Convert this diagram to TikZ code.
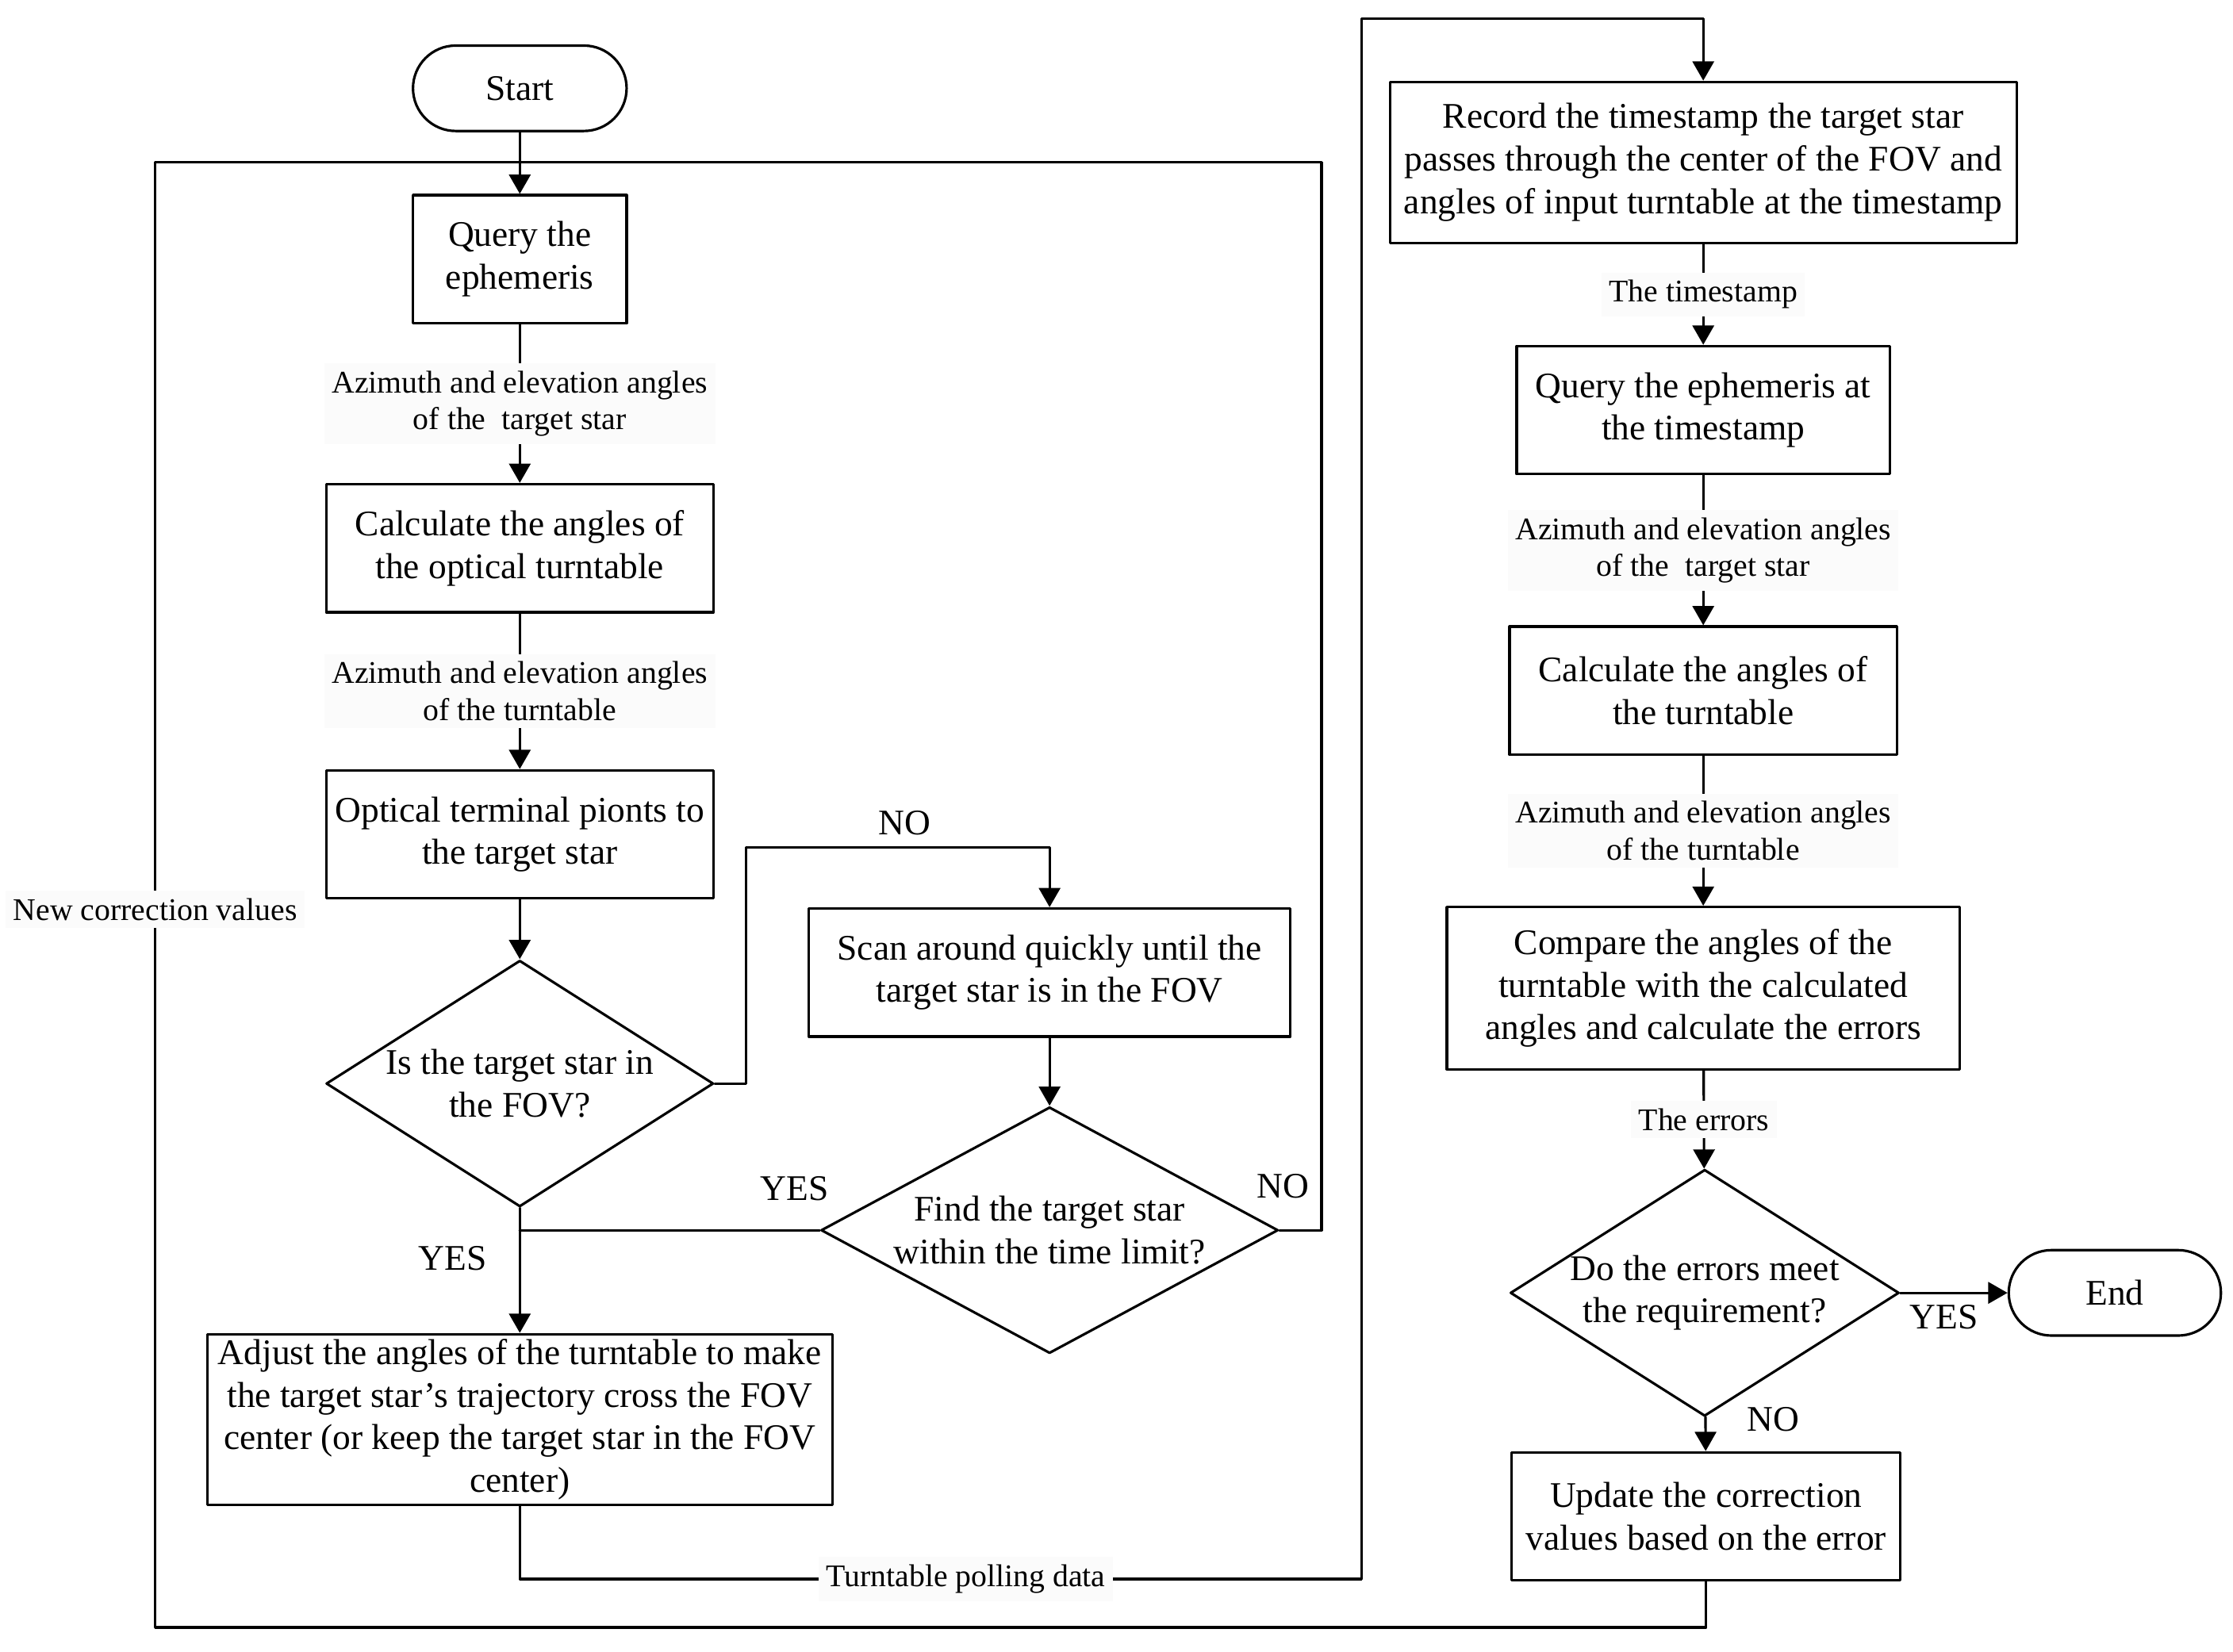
\documentclass[tikz,border=0pt]{standalone}
\usepackage{fontspec}
\setmainfont{Liberation Serif}
\usetikzlibrary{arrows.meta,shapes.geometric}
\tikzset{
  every picture/.style={line join=round, line cap=round, >={Triangle[length=0.27cm,width=0.3cm]}},
  box/.style={draw, align=center, inner sep=2pt, font=\fontsize{14.4}{17}\selectfont},
  decision/.style={draw, diamond, align=center, inner sep=0pt, aspect=1.57, font=\fontsize{14.4}{17}\selectfont},
  terminal/.style={draw, rounded corners=0.6cm, minimum height=1.2cm, font=\fontsize{14.4}{17}\selectfont},
  tag/.style={fill=gray!3, inner sep=3pt, align=center, font=\fontsize{12.6}{14.8}\selectfont},
  yn/.style={inner sep=0pt, font=\fontsize{14.4}{17}\selectfont},
}

\begin{document}
\begin{tikzpicture}[line width=1pt]
\useasboundingbox (0,0) rectangle (31.36,-23.2);
% left column
\node[terminal, minimum width=3cm] (start) at (7.30,-1.24) {Start};
\node[box, minimum width=3cm, minimum height=1.8cm] (query) at (7.30,-3.64) {Query the\\ephemeris};
\node[box, minimum width=5.44cm, minimum height=1.8cm] (calcopt) at (7.30,-7.70) {Calculate the angles of\\the optical turntable};
\node[box, minimum width=5.44cm, minimum height=1.8cm] (point) at (7.30,-11.72) {Optical terminal pionts to\\the target star};
\node[decision, minimum width=5.44cm, minimum height=3.46cm] (infov) at (7.30,-15.22) {Is the target star in\\the FOV?};
\node[box, minimum width=6.76cm, minimum height=1.8cm] (scan) at (14.74,-13.66) {Scan around quickly until the\\target star is in the FOV};
\node[decision, aspect=2.13, minimum width=6.42cm, minimum height=3.46cm] (findlim) at (14.74,-17.28) {Find the target star\\within the time limit?};
\node[box, minimum width=8.78cm, minimum height=2.4cm] (adjust) at (7.30,-19.94) {Adjust the angles of the turntable to make\\the target star’s trajectory cross the FOV\\center (or keep the target star in the FOV\\center)};
% right column
\node[box, minimum width=8.8cm, minimum height=2.26cm] (record) at (23.92,-2.28) {Record the timestamp the target star\\passes through the center of the FOV and\\angles of input turntable at the timestamp};
\node[box, minimum width=5.24cm, minimum height=1.8cm] (query2) at (23.92,-5.76) {Query the ephemeris at\\the timestamp};
\node[box, minimum width=5.44cm, minimum height=1.8cm] (calc2) at (23.92,-9.70) {Calculate the angles of\\the turntable};
\node[box, minimum width=7.2cm, minimum height=2.28cm] (compare) at (23.92,-13.88) {Compare the angles of the\\turntable with the calculated\\angles and calculate the errors};
\node[decision, minimum width=5.46cm, minimum height=3.46cm] (meet) at (23.94,-18.16) {Do the errors meet\\the requirement?};
\node[box, minimum width=5.46cm, minimum height=1.8cm] (update) at (23.96,-21.30) {Update the correction\\values based on the error};
\node[terminal, minimum width=2.98cm] (end) at (29.70,-18.16) {End};

\coordinate (loopl) at (2.18,-2.28);
\coordinate (loopr) at (18.56,-2.28);
\coordinate (looptop) at (7.30,-2.28);

% main flow
\draw[->] (start) -- (query);
\draw[->] (query) -- node[tag]{Azimuth and elevation angles\\of the\ \ target star} (calcopt);
\draw[->] (calcopt) -- node[tag]{Azimuth and elevation angles\\of the turntable} (point);
\draw[->] (point) -- (infov);
\draw[->] (infov.east) -| (10.48,-11.90) -| (scan.north);
\draw[->] (scan) -- (findlim);
\draw (findlim.west) -- (findlim.west -| infov.south);
\draw[->] (infov.south) -- (adjust.north);
\draw (findlim.east) -| (loopr) -- (looptop);
\draw[->] (adjust.south) -- (7.30,-22.18) -- node[tag, pos=0.53]{Turntable polling data} (19.12,-22.18)
  -- (19.12,-0.26) -| (record.north);
\draw[->] (record) -- node[tag]{The timestamp} (query2);
\draw[->] (query2) -- node[tag]{Azimuth and elevation angles\\of the\ \ target star} (calc2);
\draw[->] (calc2) -- node[tag]{Azimuth and elevation angles\\of the turntable} (compare);
\draw[->] (compare) -- node[tag]{The errors} (meet);
\draw[->] (meet) -- (end);
\draw[->] (meet) -- (update);
\draw (update.south) |- (2.18,-22.86) -- node[tag, pos=0.49]{New correction values} (loopl) -- (looptop);

% branch labels
\node[yn] (no1) at (12.70,-11.56) {NO};
\node[yn] (yes1) at (11.16,-16.70) {YES};
\node[yn] (no2) at (18.02,-16.66) {NO};
\node[yn] (yes2) at (6.36,-17.68) {YES};
\node[yn] (yes3) at (27.30,-18.50) {YES};
\node[yn] (no3) at (24.90,-19.94) {NO};
\end{tikzpicture}
\end{document}
